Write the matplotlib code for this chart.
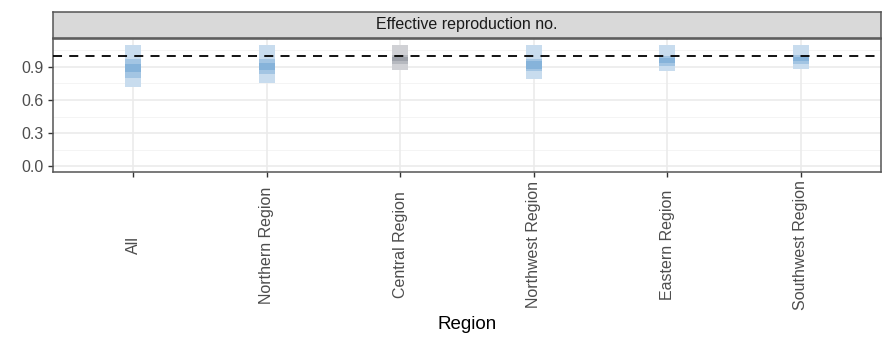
import matplotlib
matplotlib.use("Agg")
import matplotlib.pyplot as plt
from matplotlib.patches import Rectangle

plt.rcParams['font.family'] = ['Liberation Sans', 'DejaVu Sans']

regions = ["All", "Northern Region", "Central Region", "Northwest Region",
           "Eastern Region", "Southwest Region"]
# 90% interval
lo90 = [0.716, 0.750, 0.868, 0.789, 0.858, 0.880]
hi90 = [1.100, 1.100, 1.100, 1.100, 1.100, 1.100]
# 50% interval
lo50 = [0.800, 0.834, 0.925, 0.858, 0.904, 0.925]
hi50 = [0.970, 0.970, 1.010, 0.970, 0.995, 1.010]
# 20% interval
lo20 = [0.850, 0.873, 0.955, 0.880, 0.934, 0.950]
hi20 = [0.920, 0.934, 0.990, 0.950, 0.980, 0.990]
status = ["decreasing", "decreasing", "stable", "decreasing", "decreasing", "decreasing"]
yticks = [0.0, 0.3, 0.6, 0.9]

palette = {
    "decreasing": ["#c8dcee", "#a3c5e3", "#86b3da"],
    "stable": ["#d0d1d5", "#b6b9bf", "#9ea2aa"],
}

W, H = 886, 338
fig = plt.figure(figsize=(W / 100, H / 100), dpi=100)
left, right = 53 / W, 881 / W
bottom, top = 1 - 172 / H, 1 - 39 / H
ax = fig.add_axes([left, bottom, right - left, top - bottom])

ax.set_xlim(-0.6, len(regions) - 1 + 0.6)
ax.set_ylim(-0.05, 1.15)

# grid
for y in [0.15, 0.45, 0.75, 1.05]:
    ax.axhline(y, color="#f2f2f2", lw=0.6, zorder=0)
for y in yticks:
    ax.axhline(y, color="#ebebeb", lw=1.2, zorder=0)
for i in range(len(regions)):
    ax.axvline(i, color="#ebebeb", lw=1.2, zorder=0)

bw = 0.12
for i, r in enumerate(regions):
    cols = palette[status[i]]
    for (lo, hi), c in zip([(lo90[i], hi90[i]), (lo50[i], hi50[i]), (lo20[i], hi20[i])], cols):
        ax.add_patch(Rectangle((i - bw / 2, lo), bw, hi - lo, facecolor=c,
                               edgecolor="none", zorder=2))

ax.axhline(1.0, color="black", lw=1.3, ls=(0, (5, 4)), zorder=3)

ax.set_yticks(yticks)
ax.set_yticklabels([f"{v:.1f}" for v in yticks])
ax.set_xticks(range(len(regions)))
ax.set_xticklabels(regions, rotation=90, va="center", ha="center")
ax.tick_params(axis="x", length=3.5, width=1, color="#333333", pad=49,
               labelsize=11.5, labelcolor="#4d4d4d")
ax.tick_params(axis="y", length=3.5, width=1, color="#333333", pad=3,
               labelsize=11.5, labelcolor="#4d4d4d")
for s in ax.spines.values():
    s.set_color("#555555")
    s.set_linewidth(1.1)

ax.set_xlabel("Region", fontsize=13.5, color="black")
ax.xaxis.set_label_coords(0.5, -1.085)

# strip
sb = 1 - 38 / H
st = 1 - 12 / H
sax = fig.add_axes([left, sb, right - left, st - sb])
sax.set_facecolor("#d9d9d9")
sax.set_xticks([]); sax.set_yticks([])
for s in sax.spines.values():
    s.set_color("#555555")
    s.set_linewidth(1.1)
sax.text(0.5, 0.5, "Effective reproduction no.", ha="center", va="center",
         fontsize=11.5, color="#1a1a1a", transform=sax.transAxes)

fig.savefig("out.png", dpi=100)
